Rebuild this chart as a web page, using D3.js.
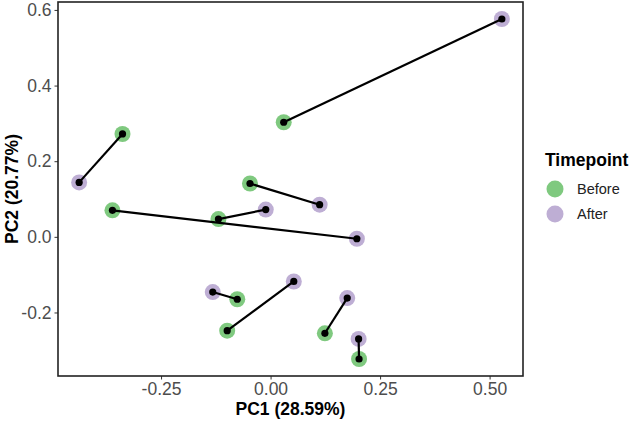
<!DOCTYPE html>
<html>
<head>
<meta charset="utf-8">
<script src="https://cdn.jsdelivr.net/npm/d3@7"></script>
<style>
  body { margin: 0; background: #fff; }
  svg text { font-family: "Liberation Sans", Arial, sans-serif; }
</style>
</head>
<body>
<svg id="chart" width="630" height="421"></svg>
<script>
// PCA scores per subject, before and after
const beforeX = [0.030, -0.338, -0.047, -0.361, -0.119, -0.076, -0.099, 0.124, 0.202];
const beforeY = [0.303, 0.272, 0.141, 0.070, 0.047, -0.165, -0.248, -0.255, -0.323];
const afterX = [0.528, -0.437, 0.112, 0.197, -0.011, -0.132, 0.053, 0.175, 0.201];
const afterY = [0.576, 0.144, 0.085, -0.005, 0.072, -0.146, -0.118, -0.162, -0.270];
const groups = ["Before", "After"];
const groupColors = ["#7FC97F", "#BEAED4"];
const xTicks = [-0.25, 0, 0.25, 0.5];
const yTicks = [-0.2, 0, 0.2, 0.4, 0.6];

const svg = d3.select("#chart");
const panelL = 58, panelR = 523, panelT = 2, panelB = 376;

function expand(vals) {
    const ext = d3.extent(vals);
    const pad = (ext[1] - ext[0]) * 0.05;
    return [ext[0] - pad, ext[1] + pad];
}
// plain hyphen for negatives, like R does
const hyphen = f => d => f(d).replace("\u2212", "-");

const x = d3.scaleLinear().domain(expand(beforeX.concat(afterX))).range([panelL, panelR]);
const y = d3.scaleLinear().domain(expand(beforeY.concat(afterY))).range([panelB, panelT]);
const color = d3.scaleOrdinal().domain(groups).range(groupColors);

const pts = [];
beforeX.forEach((v, i) => pts.push({ id: i, g: "Before", x: v, y: beforeY[i] }));
afterX.forEach((v, i) => pts.push({ id: i, g: "After", x: v, y: afterY[i] }));

// axes
const xAxis = svg.append("g")
    .attr("transform", `translate(0,${panelB})`)
    .call(d3.axisBottom(x).tickValues(xTicks).tickSize(3.5).tickPadding(3)
        .tickFormat(hyphen(d3.format(".2f"))));
const yAxis = svg.append("g")
    .attr("transform", `translate(${panelL},0)`)
    .call(d3.axisLeft(y).tickValues(yTicks).tickSize(3.5).tickPadding(3)
        .tickFormat(hyphen(d3.format(".1f"))));
[xAxis, yAxis].forEach(a => {
    a.select(".domain").remove();
    a.selectAll(".tick line").attr("stroke", "#333").attr("stroke-width", 1);
    a.selectAll(".tick text").attr("fill", "#4d4d4d").style("font-size", "17.5px");
});

// points
svg.append("g").selectAll("circle")
    .data(pts)
    .join("circle")
    .attr("cx", d => x(d.x))
    .attr("cy", d => y(d.y))
    .attr("r", 8)
    .attr("fill", d => color(d.g));

svg.append("g").selectAll("line")
    .data(beforeX.map((v, i) => i))
    .join("line")
    .attr("x1", i => x(beforeX[i]))
    .attr("y1", i => y(beforeY[i]))
    .attr("x2", i => x(afterX[i]))
    .attr("y2", i => y(afterY[i]))
    .attr("stroke", "black")
    .attr("stroke-width", 2.2);

svg.append("g").selectAll("circle")
    .data(pts)
    .join("circle")
    .attr("cx", d => x(d.x))
    .attr("cy", d => y(d.y))
    .attr("r", 3.6)
    .attr("fill", "black");

// panel border
svg.append("rect")
    .attr("x", panelL).attr("y", panelT)
    .attr("width", panelR - panelL).attr("height", panelB - panelT)
    .attr("fill", "none")
    .attr("stroke", "#222")
    .attr("stroke-width", 1.6);

// axis titles
svg.append("text")
    .attr("x", (panelL + panelR) / 2)
    .attr("y", 415)
    .attr("text-anchor", "middle")
    .style("font-size", "17.5px")
    .style("font-weight", "bold")
    .text("PC1 (28.59%)");
svg.append("text")
    .attr("transform", `translate(18,${(panelT + panelB) / 2}) rotate(-90)`)
    .attr("text-anchor", "middle")
    .style("font-size", "17.5px")
    .style("font-weight", "bold")
    .text("PC2 (20.77%)");

// legend
const legend = svg.append("g");
legend.append("text")
    .attr("x", 545)
    .attr("y", 166)
    .style("font-size", "17.5px")
    .style("font-weight", "bold")
    .text("Timepoint");
groups.forEach((g, i) => {
    legend.append("circle")
        .attr("cx", 555)
        .attr("cy", 189 + i * 25)
        .attr("r", 8.5)
        .attr("fill", color(g));
    legend.append("text")
        .attr("x", 577)
        .attr("y", 189 + i * 25 + 5)
        .style("font-size", "14.5px")
        .attr("fill", "#222")
        .text(g);
});
</script>
</body>
</html>
